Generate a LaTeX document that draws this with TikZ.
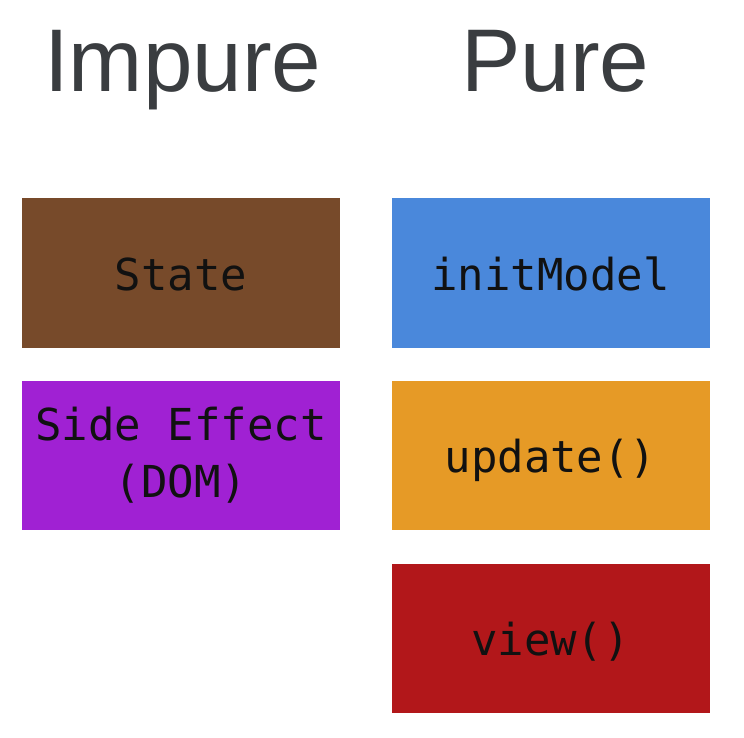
\documentclass[tikz,border=0pt]{standalone}
\usepackage{fontspec}
\setmainfont{Liberation Sans}
\setmonofont{DejaVu Sans Mono}
\definecolor{titlegray}{HTML}{3A3D40}
\definecolor{statebrown}{HTML}{774A2A}
\definecolor{sidepurple}{HTML}{A021D3}
\definecolor{initblue}{HTML}{4A88DB}
\definecolor{updorange}{HTML}{E69A26}
\definecolor{viewred}{HTML}{B2171A}
\definecolor{boxtext}{HTML}{111111}
\begin{document}
\begin{tikzpicture}[x=1pt,y=-1pt,
  box/.style={draw=none, minimum width=318pt, minimum height=150pt, inner sep=0pt,
    font=\ttfamily\fontsize{44}{57}\selectfont, text=boxtext, align=center},
  oneline/.style={text height=34pt, text depth=0pt},
  heading/.style={anchor=base west, inner sep=0pt, text=titlegray,
    font=\fontsize{89}{100}\selectfont}]
\useasboundingbox (0,0) rectangle (744,738);
\fill[white] (0,0) rectangle (744,738);
\node[heading] (impure) at (44,92) {Impure};
\node[heading] (pure) at (461,92) {Pure};
\node[box, oneline, fill=statebrown] (state) at (181,273) {State};
\node[box, fill=sidepurple, minimum height=149pt] (side) at (181,455.5) {Side Effect\\(DOM)};
\node[box, oneline, fill=initblue] (init) at (550.5,273) {initModel};
\node[box, oneline, fill=updorange, minimum height=149pt] (update) at (550.5,455.5) {update()};
\node[box, oneline, fill=viewred, minimum height=149pt] (view) at (550.5,638.5) {view()};
\end{tikzpicture}
\end{document}
